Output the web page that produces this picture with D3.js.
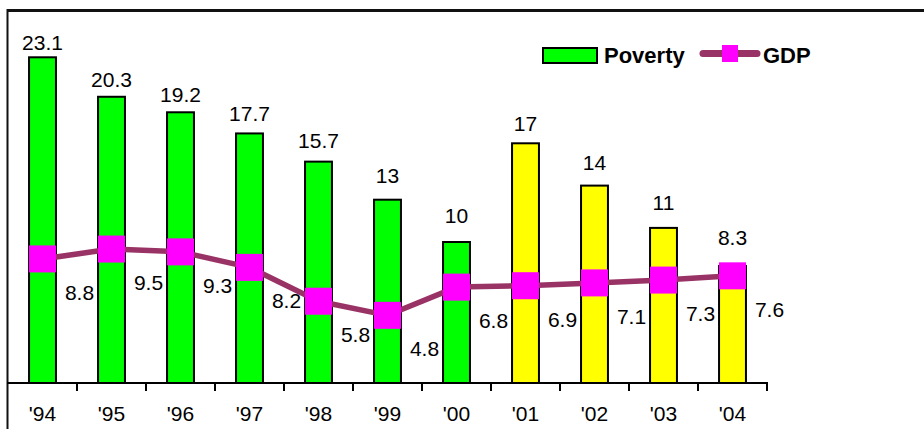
<!DOCTYPE html>
<html>
<head>
<meta charset="utf-8">
<script src="https://cdn.jsdelivr.net/npm/d3@7"></script>
<style>
  body { margin: 0; background: #fff; }
  svg { display: block; font-family: "Liberation Sans", Arial, sans-serif; }
</style>
</head>
<body>
<div id="chartDiv"></div>
<script>
// Poverty vs GDP growth, 1994-2004

var years = ["'94", "'95", "'96", "'97", "'98", "'99", "'00", "'01", "'02", "'03", "'04"];
var poverty = [23.1, 20.3, 19.2, 17.7, 15.7, 13, 10, 17, 14, 11, 8.3];
var gdp = [8.8, 9.5, 9.3, 8.2, 5.8, 4.8, 6.8, 6.9, 7.1, 7.3, 7.6];
// first year drawn in yellow
var splitYear = "'01";

var svgWidth = 924;
var svgHeight = 429;

var svg = d3.select('#chartDiv')
            .append('svg')
            .attr('width', svgWidth)
            .attr('height', svgHeight);

// Scales
var x = d3.scaleBand()
          .domain(years)
          .range([8, 767])
          .paddingInner(0.61)
          .paddingOuter(0.305);

var y = d3.scaleLinear()
          .domain([0, 25])
          .range([383, 30.5]);

// bar value labels sit a bit closer to short bars than to tall ones
var labelY = d3.scaleLinear()
               .domain([0, 25])
               .range([355, 25]);

var step = x.step();
var cx = function(d) { return x(d) + x.bandwidth() / 2; };

// Frame (top and left edges are the only ones in view)
svg.append('line')
   .attr('x1', 7).attr('x2', svgWidth)
   .attr('y1', 10.5).attr('y2', 10.5)
   .attr('stroke', '#111').attr('stroke-width', 3);
svg.append('line')
   .attr('x1', 7.5).attr('x2', 7.5)
   .attr('y1', 9).attr('y2', svgHeight)
   .attr('stroke', '#111').attr('stroke-width', 2);

// Bars
svg.selectAll('.bar')
   .data(years)
   .enter()
   .append('rect')
   .attr('class', 'bar')
   .attr('x', function(d) { return x(d); })
   .attr('width', x.bandwidth())
   .attr('y', function(d, i) { return y(poverty[i]); })
   .attr('height', function(d, i) { return y(0) - y(poverty[i]); })
   .attr('fill', function(d, i) { return i >= years.indexOf(splitYear) ? '#ffff00' : '#00ff00'; })
   .attr('stroke', '#000')
   .attr('stroke-width', 2);

// Bar labels
svg.selectAll('.barLabel')
   .data(years)
   .enter()
   .append('text')
   .attr('class', 'barLabel')
   .attr('x', cx)
   .attr('y', function(d, i) { return labelY(poverty[i]); })
   .attr('text-anchor', 'middle')
   .attr('font-size', 21)
   .text(function(d, i) { return poverty[i]; });

// X axis line and ticks on category boundaries
svg.append('line')
   .attr('x1', 7).attr('x2', x.range()[1] + 1)
   .attr('y1', y(0)).attr('y2', y(0))
   .attr('stroke', '#000').attr('stroke-width', 2);

svg.selectAll('.tick')
   .data(years)
   .enter()
   .append('line')
   .attr('class', 'tick')
   .attr('x1', function(d) { return cx(d) + step / 2; })
   .attr('x2', function(d) { return cx(d) + step / 2; })
   .attr('y1', y(0))
   .attr('y2', y(0) + 8)
   .attr('stroke', '#000').attr('stroke-width', 2);

svg.selectAll('.tickLabel')
   .data(years)
   .enter()
   .append('text')
   .attr('class', 'tickLabel')
   .attr('x', cx)
   .attr('y', 421)
   .attr('text-anchor', 'middle')
   .attr('font-size', 21)
   .text(function(d) { return d; });

// GDP line
var line = d3.line()
             .x(function(d, i) { return cx(years[i]); })
             .y(function(d) { return y(d); });

svg.append('path')
   .datum(gdp)
   .attr('d', line)
   .attr('fill', 'none')
   .attr('stroke', '#993366')
   .attr('stroke-width', 5.5)
   .attr('stroke-linejoin', 'round');

var markerSize = 27;
svg.selectAll('.marker')
   .data(gdp)
   .enter()
   .append('rect')
   .attr('class', 'marker')
   .attr('x', function(d, i) { return cx(years[i]) - markerSize / 2; })
   .attr('y', function(d) { return y(d) - markerSize / 2; })
   .attr('width', markerSize)
   .attr('height', markerSize)
   .attr('fill', '#ff00ff');

// GDP labels, placed below and to the right of each marker
svg.selectAll('.gdpLabel')
   .data(gdp)
   .enter()
   .append('text')
   .attr('class', 'gdpLabel')
   .attr('x', function(d, i) { return cx(years[i]) + 37; })
   .attr('y', function(d) { return y(d) + 41; })
   .attr('text-anchor', 'middle')
   .attr('font-size', 21)
   .text(function(d) { return d; });

// Legend
var legend = svg.append('g');
legend.append('rect')
      .attr('x', 543).attr('y', 48)
      .attr('width', 54).attr('height', 15)
      .attr('fill', '#00ff00')
      .attr('stroke', '#000').attr('stroke-width', 2);
legend.append('text')
      .attr('x', 604).attr('y', 63)
      .attr('font-size', 22).attr('font-weight', 'bold')
      .text('Poverty');
legend.append('line')
      .attr('x1', 703).attr('x2', 757)
      .attr('y1', 53.5).attr('y2', 53.5)
      .attr('stroke', '#993366').attr('stroke-width', 7)
      .attr('stroke-linecap', 'round');
legend.append('rect')
      .attr('x', 722).attr('y', 45)
      .attr('width', 16).attr('height', 17)
      .attr('fill', '#ff00ff');
legend.append('text')
      .attr('x', 763).attr('y', 63)
      .attr('font-size', 22).attr('font-weight', 'bold')
      .text('GDP');
</script>
</body>
</html>
